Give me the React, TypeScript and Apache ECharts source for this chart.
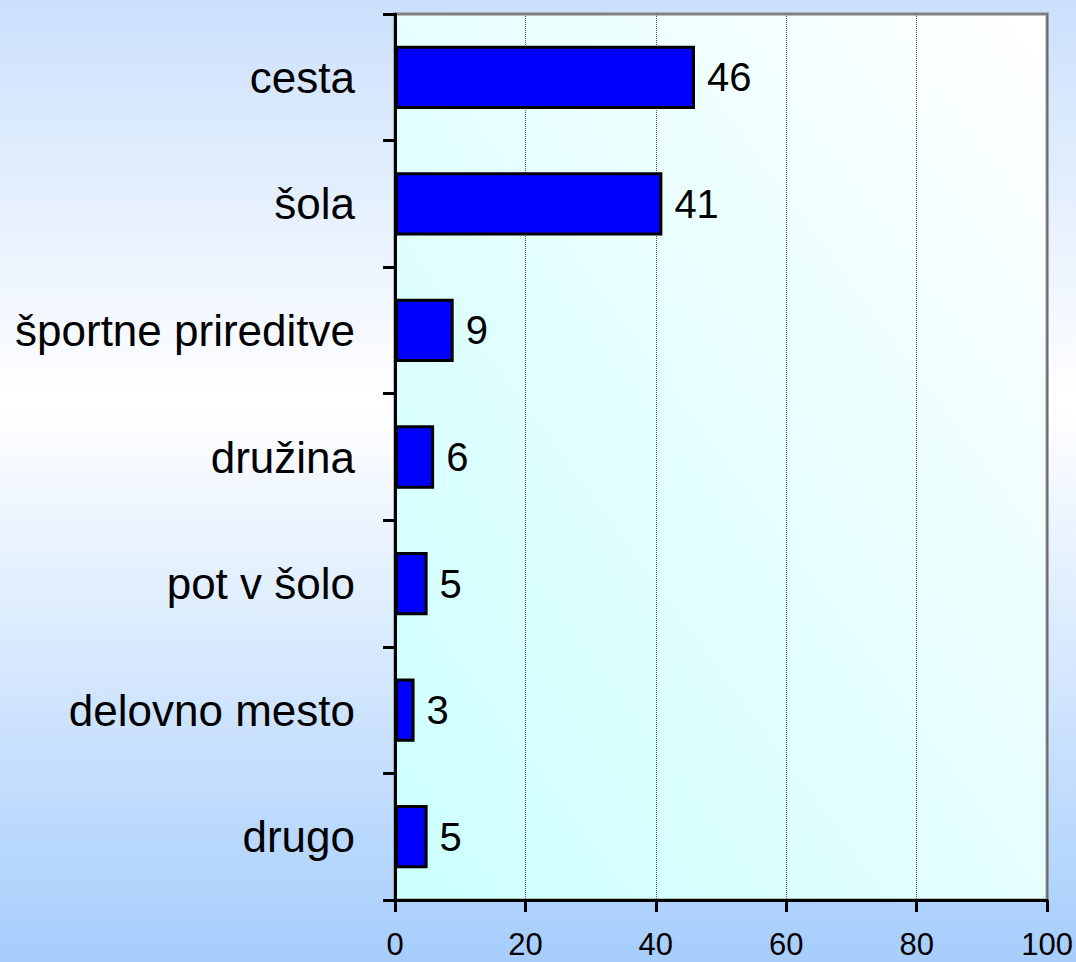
import React, { useEffect, useRef } from "react";
import * as echarts from "echarts";

const categories = [
  "cesta",
  "šola",
  "športne prireditve",
  "družina",
  "pot v šolo",
  "delovno mesto",
  "drugo",
];
const values = [46, 41, 9, 6, 5, 3, 5];
const xTicks = [0, 20, 40, 60, 80, 100];

export default function App() {
  const ref = useRef<HTMLDivElement>(null);
  useEffect(() => {
    if (!ref.current) return;
    const chart = echarts.init(ref.current, undefined, { renderer: "svg" });
    chart.setOption({
      animation: false,
      backgroundColor: new echarts.graphic.LinearGradient(0, 0, 0, 1, [
        { offset: 0, color: "#cbe0fc" },
        { offset: 0.42, color: "#ffffff" },
        { offset: 1, color: "#a6cdfc" },
      ]),
      grid: {
        left: 395,
        right: 26,
        top: 14,
        bottom: 62,
        show: true,
        borderColor: "#808080",
        borderWidth: 3,
        backgroundColor: new echarts.graphic.LinearGradient(0, 1, 1, 0, [
          { offset: 0, color: "#ccffff" },
          { offset: 1, color: "#ffffff" },
        ]),
      },
      xAxis: {
        type: "value",
        min: xTicks[0],
        max: xTicks[xTicks.length - 1],
        interval: 20,
        axisLine: { show: true, lineStyle: { color: "#000", width: 3 } },
        axisTick: { show: true, length: 12, lineStyle: { color: "#000", width: 3 } },
        axisLabel: {
          margin: 29,
          fontSize: 31,
          lineHeight: 31,
          color: "#000",
          fontFamily: "'Liberation Sans Narrow', 'Liberation Sans', Arial, sans-serif",
        },
        splitLine: { show: true, lineStyle: { color: "#555", width: 1, type: "dotted" } },
      },
      yAxis: {
        type: "category",
        data: categories,
        inverse: true,
        axisLine: { show: true, lineStyle: { color: "#000", width: 3 } },
        axisTick: { show: true, length: 12, lineStyle: { color: "#000", width: 3 } },
        axisLabel: {
          margin: 40,
          fontSize: 44,
          color: "#000",
          fontFamily: "'Liberation Sans', Arial, sans-serif",
        },
        splitLine: { show: false },
      },
      series: [
        {
          type: "bar",
          data: values,
          barWidth: "50%",
          itemStyle: { color: "#0000ff", borderColor: "#000", borderWidth: 3 },
          label: {
            show: true,
            position: "right",
            distance: 12,
            fontSize: 40,
            color: "#000",
            fontFamily: "'Liberation Sans', Arial, sans-serif",
          },
        },
      ],
    });
    return () => chart.dispose();
  }, []);
  return (
    <div
      ref={ref}
      style={{ position: "fixed", left: 0, top: 0, width: 1076, height: 962 }}
    />
  );
}
